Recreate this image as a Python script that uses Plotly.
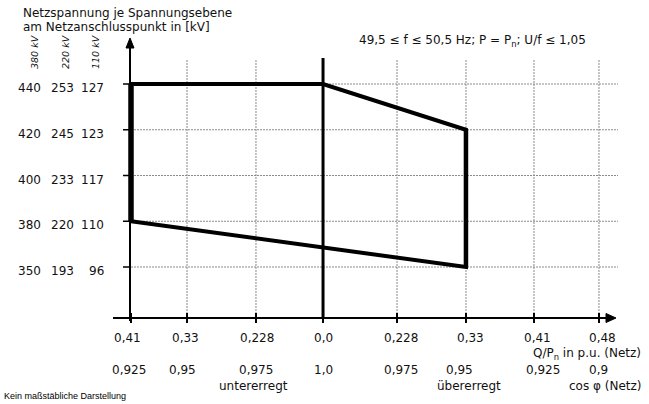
import plotly.graph_objects as go

# ---------------- data ----------------
title_lines = ["Netzspannung je Spannungsebene", "am Netzanschlusspunkt in [kV]"]
voltage_levels = ["380 kV", "220 kV", "110 kV"]
u_380 = [440, 420, 400, 380, 350]
u_220 = [253, 245, 233, 220, 193]
u_110 = [127, 123, 117, 110, 96]
q_values = [-0.41, -0.33, -0.228, 0.0, 0.228, 0.33, 0.41, 0.48]
q_labels = ["0,41", "0,33", "0,228", "0,0", "0,228", "0,33", "0,41", "0,48"]
cos_labels = ["0,925", "0,95", "0,975", "1,0", "0,975", "0,95", "0,925", "0,9"]
boundary_q = [-0.41, 0.0, 0.33, 0.33, -0.41, -0.41]
boundary_u380 = [440, 440, 420, 350, 380, 440]
condition_text = "49,5 ≤ f ≤ 50,5 Hz; P = P<sub>n</sub>; U/f ≤ 1,05"
x_title = "Q/P<sub>n</sub> in p.u. (Netz)"
cos_title = "cos φ (Netz)"
under_label = "untererregt"
over_label = "übererregt"
note = "Kein maßstäbliche Darstellung"

# ---------------- layout (not to scale) ----------------
W, H = 649, 404
X0, XU = 131, 68.0      # pixel of first slot, pixels per slot unit
Y0, YU = 267, 45.75     # pixel of lowest level, pixels per level
SLOT = [0, 0.824, 1.838, 2.824, 3.912, 4.926, 5.926, 6.882]
LABEL_DX = [-4, -2, 1, 0, 4, 5, 4, 4]
COS_DX = [-2, -5, 0, 0, 4, -6, 9, 0]


def px_x(p):
    return (p - X0) / XU


def px_y(p):
    return (Y0 - p) / YU


def qx(q):
    return SLOT[q_values.index(q)]


def uy(u):
    return len(u_380) - 1 - u_380.index(u)


FONT = "DejaVu Sans, Verdana, sans-serif"
TXT = "#111111"
GRID = "#8a8a8a"
axis_y_px = 318

fig = go.Figure()
shapes = []
annotations = []

# grid lines
for i, s in enumerate(SLOT):
    if i in (0, 3):
        continue
    shapes.append(dict(type="line", xref="x", yref="y", x0=s, x1=s,
                       y0=px_y(60), y1=px_y(axis_y_px),
                       line=dict(color=GRID, width=1, dash="2px,1px"), layer="below"))
for u in u_380:
    shapes.append(dict(type="line", xref="x", yref="y", x0=0, x1=px_x(618),
                       y0=uy(u), y1=uy(u),
                       line=dict(color=GRID, width=1, dash="2px,1px"), layer="below"))

# Q = 0 line
shapes.append(dict(type="line", xref="x", yref="y", x0=qx(0.0), x1=qx(0.0),
                   y0=px_y(58), y1=px_y(axis_y_px), line=dict(color="black", width=3)))

# y axis with arrow
shapes.append(dict(type="line", xref="x", yref="y", x0=px_x(130), x1=px_x(130),
                   y0=px_y(321), y1=px_y(46), line=dict(color="black", width=2)))
shapes.append(dict(type="path", xref="x", yref="y",
                   path=f"M {px_x(130)},{px_y(38)} L {px_x(126)},{px_y(48)} L {px_x(134)},{px_y(48)} Z",
                   fillcolor="black", line=dict(color="black", width=1)))
# x axis with arrow
shapes.append(dict(type="line", xref="x", yref="y", x0=px_x(113), x1=px_x(608),
                   y0=px_y(axis_y_px), y1=px_y(axis_y_px), line=dict(color="black", width=2)))
shapes.append(dict(type="path", xref="x", yref="y",
                   path=f"M {px_x(616)},{px_y(axis_y_px)} L {px_x(606)},{px_y(313.5)} L {px_x(606)},{px_y(322.5)} Z",
                   fillcolor="black", line=dict(color="black", width=1)))

# ticks
for u in u_380:
    shapes.append(dict(type="line", xref="x", yref="y", x0=px_x(123), x1=0,
                       y0=uy(u), y1=uy(u), line=dict(color="black", width=1.5)))
for s in SLOT:
    shapes.append(dict(type="line", xref="x", yref="y", x0=s, x1=s,
                       y0=px_y(313), y1=px_y(323), line=dict(color="black", width=2)))

# operating boundary
bx = [qx(q) for q in boundary_q]
by = [uy(u) for u in boundary_u380]
fig.add_trace(go.Scatter(x=bx, y=by, mode="lines",
                         line=dict(color="black", width=4), hoverinfo="skip"))
# emphasised vertical edges
fig.add_trace(go.Scatter(x=[qx(-0.41), qx(-0.41)], y=[uy(440), uy(380)], mode="lines",
                         line=dict(color="black", width=5.5), hoverinfo="skip"))
fig.add_trace(go.Scatter(x=[qx(0.33), qx(0.33)], y=[uy(420), uy(350)], mode="lines",
                         line=dict(color="black", width=4.5), hoverinfo="skip"))


def add_text(text, xp, yp, size=12, xanchor="center", yanchor="middle", **kw):
    annotations.append(dict(text=text, x=px_x(xp), y=px_y(yp), xref="x", yref="y",
                            showarrow=False, xanchor=xanchor, yanchor=yanchor,
                            font=dict(family=FONT, size=size, color=TXT), **kw))


# title
add_text(title_lines[0], 21, 13, xanchor="left")
add_text(title_lines[1], 21, 27, xanchor="left")
add_text(condition_text, 357, 41, xanchor="left")

# rotated voltage level headers
for lbl, xp in zip(voltage_levels, [34, 65, 95]):
    annotations.append(dict(text=f"<i>{lbl}</i>", x=px_x(xp), y=px_y(52), xref="x", yref="y",
                            showarrow=False, textangle=-90, xanchor="center", yanchor="middle",
                            font=dict(family=FONT, size=9.5, color=TXT)))

# y tick label columns
for a, b, c in zip(u_380, u_220, u_110):
    yv = uy(a)
    for val, xp, anc in ((a, 29.5, "center"), (b, 62.5, "center"), (c, 106, "right")):
        annotations.append(dict(text=str(val), x=px_x(xp), y=yv, xref="x", yref="y",
                                showarrow=False, xanchor=anc, yanchor="middle", yshift=-4,
                                font=dict(family=FONT, size=12, color=TXT)))

# x tick labels
for s, lbl, dx in zip(SLOT, q_labels, LABEL_DX):
    annotations.append(dict(text=lbl, x=s, y=px_y(338), xref="x", yref="y", xshift=dx,
                            showarrow=False, xanchor="center", yanchor="middle",
                            font=dict(family=FONT, size=12, color=TXT)))
for s, lbl, dx in zip(SLOT, cos_labels, COS_DX):
    annotations.append(dict(text=lbl, x=s, y=px_y(370), xref="x", yref="y", xshift=dx,
                            showarrow=False, xanchor="center", yanchor="middle",
                            font=dict(family=FONT, size=12, color=TXT)))

add_text(x_title, 643, 354, xanchor="right")
add_text(cos_title, 643, 386, xanchor="right")
add_text(under_label, 253, 385.5)
add_text(over_label, 469, 385.5)
annotations.append(dict(text=note, x=px_x(2), y=px_y(396), xref="x", yref="y",
                        showarrow=False, xanchor="left", yanchor="middle",
                        font=dict(family="Liberation Sans, Arial, sans-serif", size=9, color="black")))

fig.update_layout(
    width=W, height=H,
    margin=dict(l=0, r=0, t=0, b=0),
    paper_bgcolor="white", plot_bgcolor="white",
    showlegend=False,
    shapes=shapes,
    annotations=annotations,
    xaxis=dict(range=[px_x(0), px_x(W)], visible=False, fixedrange=True),
    yaxis=dict(range=[px_y(H), px_y(0)], visible=False, fixedrange=True),
)

fig.write_html("out.html", config={"displayModeBar": False},
               post_script="document.body.style.margin='0';document.body.style.overflow='hidden';")
